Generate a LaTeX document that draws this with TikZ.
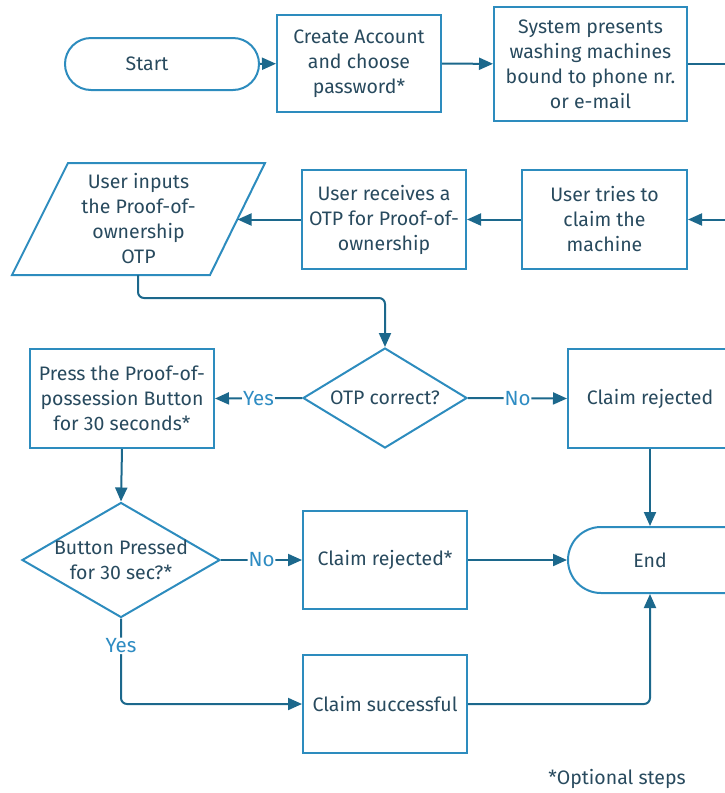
\documentclass[tikz,border=0pt]{standalone}
\usepackage{fontspec}
\setmainfont{Fira Sans}
\usetikzlibrary{arrows.meta,shapes.geometric,shapes.misc}
\definecolor{boxc}{RGB}{45,140,190}
\definecolor{arrc}{RGB}{28,104,140}
\definecolor{txtc}{RGB}{40,74,94}
\definecolor{lblc}{RGB}{46,140,195}
\begin{document}
\begin{tikzpicture}[x=1pt,y=-1pt,
  font=\fontsize{19.5}{25}\selectfont,
  box/.style={draw=boxc, line width=2pt, align=center, text=txtc, inner sep=0pt},
  term/.style={rounded rectangle, draw=boxc, line width=2pt, text=txtc, inner sep=0pt},
  dia/.style={diamond, draw=boxc, line width=2pt, inner sep=0pt},
  txt/.style={text=txtc, align=center, inner sep=0pt},
  conn/.style={draw=arrc, line width=2pt, -{Triangle[length=14pt,width=12pt]}, rounded corners=6pt},
  lbl/.style={fill=white, text=lblc, inner sep=1pt, font=\fontsize{20.5}{25}\selectfont}]
\useasboundingbox (0,0) rectangle (725,793);
\clip (0,0) rectangle (725,793);
% row 1
\node[term, minimum width=194pt, minimum height=52pt] (start) at (162,64) {};
\node[txt] (startt) at (147,64) {Start};
\node[box, minimum width=164pt, minimum height=97pt] (create) at (359,63.5) {Create Account\\and choose\\password*};
\node[box, minimum width=193pt, minimum height=114pt] (sys) at (590.5,64) {System presents\\washing machines\\bound to phone nr.\\or e-mail};
\coordinate (sysout) at (745,64);
% row 2
\node[box, minimum width=165pt, minimum height=99pt] (try) at (604.5,219.5) {User tries to\\claim the\\machine};
\coordinate (tryin) at (745,219.5);
\node[box, minimum width=164pt, minimum height=99pt] (recv) at (384,219.5) {User receives a\\OTP for Proof-of-\\ownership};
\draw[boxc, line width=2pt, line join=miter] (68,163) -- (265,163) -- (210,275) -- (12,275) -- cycle;
\node[txt] (inp) at (138.5,219) {User inputs\\the Proof-of-\\ownership\\OTP};
\coordinate (inpR) at (237.5,219.5);
\coordinate (inpB) at (138,275);
\coordinate (bend1) at (0,298);
% row 3
\node[dia, minimum width=164pt, minimum height=100pt] (otp) at (385,398) {};
\node[txt] (otpt) at (otp.center) {OTP correct?};
\node[box, minimum width=184pt, minimum height=99pt] (press) at (122,398.5) {Press the Proof-of-\\possession Button\\for 30 seconds*};
\node[box, minimum width=164pt, minimum height=99pt] (rej) at (650,398.5) {Claim rejected};
% row 4
\node[dia, minimum width=198pt, minimum height=115pt] (btn) at (121,560) {};
\node[txt] (btnt) at (btn.center) {Button Pressed\\for 30 sec?*};
\node[box, minimum width=164pt, minimum height=98pt] (rej2) at (385,560) {Claim rejected*};
\node[term, minimum width=210pt, minimum height=66pt] (end) at (673,560) {};
\node[txt] (endt) at (650,560) {End};
% row 5
\node[box, minimum width=164pt, minimum height=98pt] (succ) at (385,704) {Claim successful};
\node[txt] (note) at (617,779) {*Optional steps};
% connectors
\draw[conn] (start) -- (create);
\draw[conn] (create) -- (sys);
\draw[conn, -] (sys.east) -- (sysout);
\draw[conn] (tryin) -- (try.east);
\draw[conn] (try) -- (recv);
\draw[conn] (recv.west) -- (inpR);
\draw[conn] (inpB) |- (otp.north |- bend1) -- (otp.north);
\draw[conn] (otp.west) -- node[lbl]{Yes} (press.east);
\draw[conn] (otp.east) -- node[lbl]{No} (rej.west);
\draw[conn] (rej.south) -- (rej.south |- end.north);
\draw[conn] (press.south) -- (btn.north);
\draw[conn] (btn.east) -- node[lbl]{No} (rej2.west);
\draw[conn] (rej2.east) -- (end.west);
\draw[conn] (btn.south) |- node[lbl, pos=0.16]{Yes} (succ.west);
\draw[conn] (succ.east) -| (endt |- end.south);
\end{tikzpicture}
\end{document}
